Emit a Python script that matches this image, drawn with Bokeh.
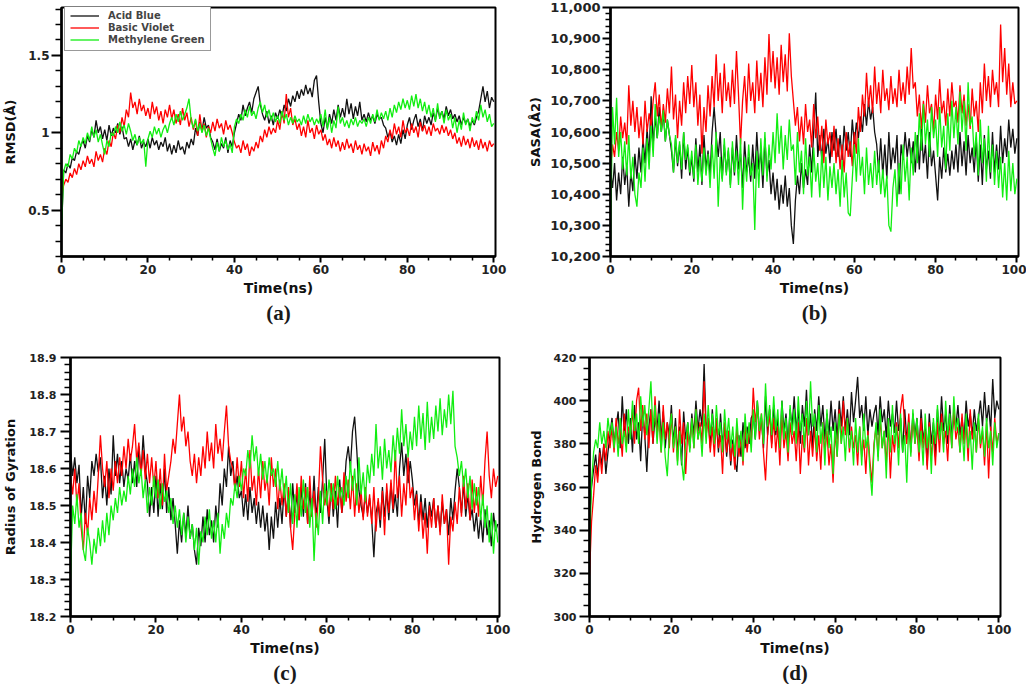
import numpy as np
from bokeh.plotting import figure
from bokeh.models import (Range1d, FixedTicker, NumeralTickFormatter, PrintfTickFormatter,
                          Legend, LegendItem, Title)
from bokeh.layouts import column, row
from bokeh.embed import file_html
from bokeh.resources import INLINE

# ---------------- data (t = 0 ... 100 ns, every 0.5 ns) -------------
time_ns = np.linspace(0, 100, 201)

series_names = ["Acid Blue", "Basic Violet", "Methylene Green"]

rmsd_acid_blue = [
    0.35, 0.76, 0.74, 0.80, 0.77, 0.84, 0.82, 0.88, 0.86, 0.92,
    0.95, 0.90, 0.98, 0.94, 1.02, 0.97, 1.08, 1.00, 1.04, 0.96,
    1.02, 0.95, 1.05, 0.98, 1.03, 1.00, 1.06, 0.99, 1.04, 0.96,
    0.97, 0.91, 0.96, 0.89, 0.95, 0.92, 0.98, 0.90, 0.94, 0.91,
    0.96, 0.90, 0.97, 0.92, 0.95, 0.89, 0.94, 0.91, 0.97, 0.88,
    0.93, 0.86, 0.92, 0.87, 0.95, 0.89, 0.91, 0.86, 0.94, 0.90,
    0.96, 0.92, 1.03, 0.98, 1.07, 1.01, 1.10, 1.03, 1.05, 0.97,
    0.94, 0.89, 0.96, 0.88, 0.93, 0.90, 0.97, 0.87, 0.95, 0.91,
    1.00, 1.06, 1.12, 1.08, 1.18, 1.11, 1.16, 1.20, 1.13, 1.22,
    1.26, 1.30, 1.18, 1.12, 1.08, 1.14, 1.06, 1.11, 1.05, 1.13,
    1.09, 1.15, 1.10, 1.18, 1.14, 1.22, 1.17, 1.24, 1.20, 1.27,
    1.22, 1.28, 1.24, 1.31, 1.25, 1.29, 1.23, 1.34, 1.37, 1.20,
    1.06, 1.00, 1.10, 1.03, 1.12, 1.06, 1.15, 1.08, 1.18, 1.10,
    1.16, 1.10, 1.22, 1.12, 1.19, 1.09, 1.17, 1.11, 1.20, 1.08,
    1.12, 1.07, 1.13, 1.08, 1.11, 1.06, 1.12, 1.09, 1.10, 1.05,
    1.03, 0.97, 1.01, 0.94, 0.98, 0.92, 0.99, 0.93, 1.02, 0.96,
    1.05, 1.10, 1.02, 1.08, 1.12, 1.04, 1.09, 1.01, 1.11, 1.06,
    1.10, 1.05, 1.13, 1.08, 1.16, 1.10, 1.14, 1.09, 1.17, 1.11,
    1.15, 1.09, 1.12, 1.07, 1.11, 1.05, 1.10, 1.06, 1.09, 1.04,
    1.08, 1.05, 1.10, 1.14, 1.22, 1.30, 1.20, 1.27, 1.16, 1.23,
    1.20]
rmsd_basic_violet = [
    0.60, 0.66, 0.70, 0.68, 0.74, 0.71, 0.77, 0.73, 0.80, 0.76,
    0.82, 0.78, 0.85, 0.80, 0.83, 0.78, 0.88, 0.82, 0.86, 0.81,
    0.90, 0.86, 0.95, 0.91, 1.00, 0.96, 1.05, 1.00, 1.10, 1.04,
    1.15, 1.10, 1.26, 1.16, 1.20, 1.12, 1.22, 1.14, 1.18, 1.11,
    1.16, 1.09, 1.20, 1.12, 1.17, 1.08, 1.14, 1.06, 1.15, 1.10,
    1.18, 1.09, 1.15, 1.06, 1.12, 1.05, 1.16, 1.08, 1.13, 1.04,
    1.10, 1.02, 1.08, 0.98, 1.12, 1.01, 1.06, 0.97, 1.04, 1.00,
    1.07, 1.01, 1.09, 1.03, 1.06, 0.99, 1.08, 1.02, 1.05, 1.00,
    0.94, 0.90, 0.92, 0.87, 0.95, 0.89, 0.93, 0.85, 0.91, 0.88,
    0.94, 0.90, 0.98, 0.94, 1.02, 0.97, 1.04, 0.99, 1.03, 1.00,
    1.08, 1.02, 1.14, 1.06, 1.25, 1.10, 1.16, 1.05, 1.09, 1.02,
    1.06, 0.98, 1.04, 0.97, 1.08, 1.00, 1.03, 0.96, 1.05, 0.99,
    1.02, 0.95, 0.99, 0.92, 0.96, 0.90, 0.97, 0.91, 0.95, 0.88,
    0.94, 0.89, 0.96, 0.90, 0.93, 0.87, 0.95, 0.89, 0.92, 0.86,
    0.93, 0.88, 0.91, 0.85, 0.94, 0.88, 0.92, 0.86, 0.95, 0.90,
    0.98, 0.94, 1.02, 0.96, 1.06, 0.99, 1.04, 0.97, 1.08, 1.00,
    1.03, 0.98, 1.06, 1.00, 1.04, 0.97, 1.07, 1.01, 1.05, 0.99,
    1.04, 0.98, 1.06, 1.01, 1.03, 0.99, 1.05, 1.00, 1.04, 0.98,
    1.02, 0.96, 1.00, 0.93, 0.97, 0.91, 0.98, 0.92, 0.96, 0.90,
    0.97, 0.91, 0.95, 0.89, 0.96, 0.90, 0.94, 0.88, 0.95, 0.91,
    0.93]
rmsd_methylene_green = [
    0.38, 0.75, 0.80, 0.78, 0.86, 0.83, 0.90, 0.87, 0.95, 0.91,
    0.97, 0.93, 1.00, 0.95, 1.04, 0.97, 1.02, 0.94, 0.99, 0.92,
    0.86, 0.95, 0.91, 1.00, 0.98, 1.04, 1.00, 1.07, 1.01, 1.05,
    0.99, 1.06, 1.01, 0.95, 0.99, 0.92, 0.97, 0.93, 0.96, 0.78,
    0.96, 1.01, 0.97, 1.04, 0.99, 1.03, 0.97, 1.02, 1.05, 1.00,
    1.06, 1.10, 1.05, 1.12, 1.07, 1.14, 1.08, 1.12, 1.16, 1.22,
    1.08, 1.03, 1.09, 1.01, 1.06, 1.00, 1.05, 0.98, 1.03, 0.96,
    0.90, 0.85, 0.94, 0.88, 0.97, 0.91, 0.95, 0.89, 0.93, 0.87,
    1.04, 1.09, 1.06, 1.12, 1.08, 1.15, 1.10, 1.17, 1.11, 1.14,
    1.09, 1.16, 1.20, 1.13, 1.18, 1.10, 1.15, 1.08, 1.13, 1.07,
    1.11, 1.06, 1.14, 1.08, 1.12, 1.05, 1.10, 1.06, 1.11, 1.07,
    1.09, 1.05, 1.11, 1.06, 1.12, 1.07, 1.10, 1.05, 1.09, 1.06,
    1.12, 1.04, 1.15, 1.02, 1.10, 1.00, 1.08, 1.03, 1.17, 1.06,
    1.10, 1.04, 1.08, 1.03, 1.09, 1.05, 1.10, 1.04, 1.08, 1.06,
    1.09, 1.04, 1.10, 1.06, 1.12, 1.07, 1.15, 1.08, 1.13, 1.09,
    1.14, 1.08, 1.16, 1.10, 1.18, 1.13, 1.20, 1.15, 1.22, 1.16,
    1.21, 1.15, 1.24, 1.17, 1.25, 1.16, 1.22, 1.14, 1.20, 1.12,
    1.18, 1.10, 1.16, 1.07, 1.19, 1.09, 1.14, 1.06, 1.15, 1.08,
    1.12, 1.03, 1.10, 1.00, 1.08, 1.02, 1.13, 1.05, 1.09, 1.01,
    1.10, 1.06, 1.14, 1.08, 1.18, 1.10, 1.15, 1.07, 1.12, 1.04,
    1.06]

sasa_acid_blue = [
    10480, 10420, 10500, 10380, 10470, 10400, 10520, 10430, 10490, 10360,
    10470, 10410, 10530, 10450, 10550, 10470, 10580, 10500, 10610, 10520,
    10715, 10560, 10650, 10580, 10680, 10600, 10660, 10570, 10640, 10590,
    10540, 10470, 10580, 10490, 10560, 10450, 10600, 10480, 10550, 10460,
    10520, 10440, 10580, 10470, 10560, 10430, 10590, 10480, 10540, 10460,
    10600, 10680, 10590, 10520, 10600, 10450, 10560, 10470, 10540, 10430,
    10550, 10460, 10590, 10480, 10530, 10420, 10570, 10470, 10520, 10440,
    10560, 10450, 10600, 10480, 10540, 10420, 10580, 10460, 10510, 10400,
    10470, 10380, 10450, 10350, 10430, 10370, 10460, 10360, 10420, 10300,
    10240, 10380, 10460, 10400, 10500, 10420, 10480, 10430, 10560, 10470,
    10600, 10727, 10520, 10590, 10510, 10610, 10530, 10580, 10500, 10600,
    10540, 10610, 10520, 10590, 10510, 10620, 10540, 10600, 10520, 10640,
    10560, 10630, 10580, 10650, 10600, 10690, 10620, 10700, 10640, 10680,
    10600, 10560, 10470, 10580, 10460, 10560, 10450, 10600, 10480, 10550,
    10500, 10590, 10400, 10560, 10510, 10600, 10520, 10580, 10500, 10570,
    10470, 10590, 10480, 10620, 10500, 10560, 10450, 10600, 10490, 10540,
    10460, 10380, 10520, 10450, 10550, 10470, 10530, 10460, 10540, 10480,
    10560, 10470, 10600, 10490, 10570, 10460, 10590, 10500, 10550, 10470,
    10580, 10440, 10560, 10430, 10590, 10480, 10540, 10450, 10600, 10470,
    10560, 10480, 10620, 10500, 10580, 10520, 10640, 10550, 10610, 10530,
    10580]
sasa_basic_violet = [
    10480, 10560, 10520, 10600, 10540, 10650, 10580, 10630, 10560, 10750,
    10620, 10700, 10600, 10680, 10580, 10650, 10560, 10700, 10600, 10660,
    10620, 10700, 10760, 10650, 10720, 10610, 10690, 10630, 10740, 10660,
    10810, 10640, 10720, 10580, 10700, 10620, 10760, 10660, 10780, 10690,
    10815, 10680, 10760, 10620, 10720, 10530, 10680, 10600, 10750, 10650,
    10780, 10680, 10850, 10700, 10790, 10660, 10820, 10700, 10760, 10680,
    10800, 10690, 10860, 10720, 10560, 10700, 10780, 10660, 10820, 10700,
    10760, 10660, 10830, 10700, 10790, 10680, 10840, 10720, 10915, 10760,
    10860, 10740, 10840, 10720, 10880, 10760, 10850, 10730, 10917, 10780,
    10700, 10620, 10680, 10570, 10650, 10560, 10690, 10600, 10640, 10550,
    10690, 10580, 10650, 10540, 10620, 10500, 10640, 10560, 10600, 10520,
    10620, 10500, 10580, 10480, 10560, 10470, 10600, 10520, 10570, 10490,
    10600, 10530, 10680, 10600, 10720, 10650, 10790, 10680, 10750, 10660,
    10810, 10690, 10760, 10660, 10800, 10700, 10740, 10670, 10780, 10690,
    10740, 10680, 10800, 10700, 10760, 10690, 10810, 10720, 10870, 10740,
    10760, 10650, 10720, 10610, 10700, 10630, 10750, 10660, 10690, 10600,
    10720, 10640, 10770, 10660, 10700, 10620, 10740, 10650, 10760, 10680,
    10700, 10630, 10750, 10660, 10720, 10620, 10690, 10610, 10740, 10650,
    10700, 10600, 10760, 10660, 10820, 10700, 10780, 10680, 10800, 10720,
    10760, 10680, 10945, 10760, 10870, 10720, 10820, 10680, 10760, 10690,
    10700]
sasa_methylene_green = [
    10250, 10680, 10560, 10710, 10520, 10600, 10480, 10570, 10460, 10590,
    10450, 10520, 10400, 10360, 10470, 10420, 10550, 10440, 10580, 10480,
    10620, 10520, 10690, 10580, 10650, 10600, 10670, 10570, 10640, 10590,
    10560, 10470, 10590, 10500, 10570, 10480, 10600, 10510, 10560, 10470,
    10540, 10450, 10560, 10430, 10520, 10440, 10550, 10460, 10530, 10420,
    10560, 10450, 10600, 10360, 10520, 10440, 10580, 10460, 10550, 10420,
    10570, 10470, 10540, 10430, 10580, 10350, 10520, 10440, 10560, 10460,
    10500, 10285, 10540, 10420, 10580, 10460, 10600, 10440, 10560, 10480,
    10600, 10500, 10660, 10530, 10620, 10480, 10590, 10510, 10640, 10540,
    10560, 10430, 10600, 10470, 10540, 10400, 10580, 10460, 10520, 10390,
    10550, 10440, 10500, 10390, 10540, 10420, 10520, 10380, 10490, 10420,
    10500, 10400, 10480, 10360, 10510, 10390, 10470, 10340, 10330, 10450,
    10560, 10440, 10580, 10460, 10520, 10400, 10550, 10430, 10500, 10420,
    10540, 10430, 10510, 10400, 10480, 10390, 10460, 10300, 10280, 10420,
    10480, 10360, 10500, 10400, 10560, 10440, 10520, 10380, 10550, 10460,
    10600, 10500, 10660, 10540, 10690, 10560, 10640, 10520, 10680, 10580,
    10640, 10520, 10680, 10550, 10620, 10480, 10660, 10540, 10700, 10580,
    10680, 10560, 10730, 10600, 10700, 10540, 10760, 10620, 10650, 10520,
    10600, 10460, 10640, 10500, 10580, 10440, 10620, 10470, 10560, 10430,
    10540, 10420, 10520, 10390, 10500, 10380, 10540, 10410, 10500, 10400,
    10450]

rg_acid_blue = [
    18.65, 18.58, 18.63, 18.56, 18.61, 18.47, 18.55, 18.45, 18.58, 18.52,
    18.62, 18.58, 18.64, 18.59, 18.63, 18.52, 18.58, 18.50, 18.60, 18.53,
    18.69, 18.58, 18.64, 18.56, 18.62, 18.55, 18.60, 18.57, 18.64, 18.56,
    18.62, 18.55, 18.66, 18.58, 18.69, 18.60, 18.56, 18.47, 18.55, 18.48,
    18.58, 18.47, 18.56, 18.49, 18.60, 18.48, 18.55, 18.46, 18.52, 18.45,
    18.37, 18.46, 18.40, 18.48, 18.42, 18.50, 18.41, 18.45, 18.38, 18.34,
    18.44, 18.39, 18.47, 18.40, 18.49, 18.42, 18.46, 18.40, 18.50, 18.44,
    18.56, 18.50, 18.60, 18.55, 18.66, 18.58, 18.62, 18.54, 18.58, 18.52,
    18.54, 18.47, 18.53, 18.46, 18.55, 18.48, 18.52, 18.45, 18.51, 18.44,
    18.50, 18.43, 18.48, 18.38, 18.47, 18.41, 18.51, 18.44, 18.52, 18.45,
    18.55, 18.47, 18.54, 18.44, 18.56, 18.48, 18.53, 18.46, 18.55, 18.47,
    18.56, 18.45, 18.54, 18.47, 18.58, 18.46, 18.55, 18.48, 18.57, 18.68,
    18.52, 18.45, 18.56, 18.47, 18.54, 18.44, 18.57, 18.48, 18.53, 18.62,
    18.66, 18.60, 18.70, 18.74, 18.65, 18.54, 18.50, 18.47, 18.53, 18.48,
    18.52, 18.46, 18.36, 18.48, 18.51, 18.44, 18.55, 18.47, 18.54, 18.46,
    18.56, 18.48, 18.53, 18.47, 18.60, 18.67, 18.58, 18.64, 18.56, 18.62,
    18.57, 18.50, 18.54, 18.45, 18.53, 18.46, 18.52, 18.44, 18.51, 18.47,
    18.52, 18.44, 18.50, 18.43, 18.51, 18.45, 18.49, 18.42, 18.52, 18.46,
    18.54, 18.60, 18.55, 18.48, 18.56, 18.47, 18.53, 18.46, 18.49, 18.43,
    18.48, 18.41, 18.47, 18.40, 18.49, 18.42, 18.46, 18.39, 18.48, 18.43,
    18.45]
rg_basic_violet = [
    18.58, 18.53, 18.60, 18.50, 18.56, 18.44, 18.38, 18.48, 18.42, 18.52,
    18.46, 18.54, 18.48, 18.58, 18.69, 18.60, 18.55, 18.62, 18.52, 18.60,
    18.54, 18.62, 18.56, 18.63, 18.58, 18.66, 18.60, 18.68, 18.62, 18.66,
    18.72, 18.62, 18.67, 18.58, 18.65, 18.57, 18.64, 18.56, 18.63, 18.55,
    18.62, 18.52, 18.60, 18.50, 18.64, 18.54, 18.58, 18.62, 18.68, 18.64,
    18.72, 18.80, 18.70, 18.74, 18.66, 18.70, 18.62, 18.58, 18.64, 18.56,
    18.63, 18.58, 18.66, 18.60, 18.70, 18.62, 18.67, 18.60, 18.72, 18.64,
    18.68, 18.62, 18.70, 18.77, 18.66, 18.62, 18.60, 18.54, 18.63, 18.55,
    18.62, 18.52, 18.60, 18.51, 18.65, 18.54, 18.58, 18.50, 18.60, 18.52,
    18.62, 18.54, 18.58, 18.50, 18.63, 18.55, 18.60, 18.49, 18.57, 18.50,
    18.56, 18.47, 18.55, 18.44, 18.38, 18.48, 18.56, 18.46, 18.58, 18.49,
    18.55, 18.45, 18.58, 18.47, 18.54, 18.44, 18.52, 18.66, 18.57, 18.50,
    18.54, 18.47, 18.56, 18.49, 18.58, 18.50, 18.55, 18.48, 18.59, 18.51,
    18.57, 18.49, 18.58, 18.47, 18.56, 18.48, 18.54, 18.46, 18.55, 18.47,
    18.53, 18.45, 18.55, 18.43, 18.52, 18.46, 18.54, 18.42, 18.56, 18.48,
    18.57, 18.49, 18.65, 18.52, 18.58, 18.47, 18.56, 18.50, 18.63, 18.52,
    18.55, 18.46, 18.53, 18.43, 18.51, 18.41, 18.48, 18.37, 18.50, 18.44,
    18.52, 18.44, 18.50, 18.42, 18.53, 18.45, 18.49, 18.34, 18.47, 18.43,
    18.51, 18.45, 18.55, 18.47, 18.58, 18.49, 18.56, 18.46, 18.57, 18.48,
    18.55, 18.47, 18.58, 18.50, 18.62, 18.70, 18.58, 18.52, 18.60, 18.55,
    18.58]
rg_methylene_green = [
    18.30, 18.50, 18.45, 18.53, 18.44, 18.48, 18.38, 18.35, 18.44, 18.40,
    18.34, 18.41, 18.37, 18.44, 18.39, 18.46, 18.40, 18.48, 18.42, 18.50,
    18.46, 18.52, 18.48, 18.55, 18.50, 18.54, 18.51, 18.58, 18.53, 18.60,
    18.55, 18.63, 18.56, 18.60, 18.52, 18.57, 18.48, 18.55, 18.50, 18.58,
    18.52, 18.57, 18.49, 18.56, 18.51, 18.54, 18.48, 18.52, 18.45, 18.50,
    18.44, 18.49, 18.42, 18.48, 18.40, 18.47, 18.41, 18.45, 18.38, 18.44,
    18.34, 18.43, 18.40, 18.47, 18.42, 18.49, 18.41, 18.46, 18.40, 18.48,
    18.37, 18.45, 18.41, 18.48, 18.44, 18.52, 18.50, 18.56, 18.52, 18.58,
    18.54, 18.60, 18.58, 18.65, 18.60, 18.69, 18.62, 18.66, 18.58, 18.64,
    18.57, 18.62, 18.56, 18.63, 18.58, 18.60, 18.55, 18.62, 18.54, 18.60,
    18.52, 18.58, 18.48, 18.56, 18.45, 18.53, 18.44, 18.55, 18.47, 18.57,
    18.48, 18.55, 18.44, 18.52, 18.35, 18.48, 18.42, 18.54, 18.45, 18.56,
    18.50, 18.57, 18.51, 18.56, 18.49, 18.58, 18.52, 18.55, 18.50, 18.58,
    18.52, 18.62, 18.54, 18.60, 18.50, 18.63, 18.53, 18.59, 18.51, 18.61,
    18.56, 18.64, 18.58, 18.72, 18.60, 18.66, 18.57, 18.68, 18.60, 18.65,
    18.59, 18.69, 18.62, 18.71, 18.64, 18.76, 18.66, 18.72, 18.63, 18.70,
    18.65, 18.74, 18.66, 18.77, 18.68, 18.75, 18.65, 18.78, 18.67, 18.74,
    18.68, 18.77, 18.70, 18.79, 18.69, 18.76, 18.71, 18.80, 18.72, 18.81,
    18.66, 18.63, 18.58, 18.62, 18.55, 18.60, 18.52, 18.58, 18.49, 18.56,
    18.50, 18.55, 18.46, 18.53, 18.44, 18.50, 18.40, 18.48, 18.37, 18.46,
    18.40]

hb_acid_blue = [
    345, 360, 368, 375, 365, 378, 370, 380, 366, 376,
    384, 392, 380, 388, 395, 378, 402, 384, 396, 380,
    392, 376, 398, 382, 390, 372, 395, 384, 367, 388,
    396, 380, 392, 386, 400, 382, 395, 378, 390, 384,
    398, 380, 392, 376, 388, 370, 395, 382, 390, 378,
    394, 384, 400, 386, 396, 388, 417, 386, 392, 378,
    396, 382, 390, 376, 394, 380, 388, 374, 386, 370,
    382, 372, 367, 384, 374, 390, 378, 388, 380, 392,
    394, 382, 400, 386, 392, 378, 402, 384, 396, 380,
    398, 384, 392, 378, 400, 386, 394, 380, 396, 388,
    402, 386, 396, 380, 398, 388, 405, 384, 394, 378,
    396, 386, 402, 388, 398, 382, 394, 384, 400, 386,
    396, 382, 400, 388, 402, 386, 396, 384, 404, 390,
    400, 411, 392, 398, 386, 402, 384, 396, 388, 394,
    398, 384, 402, 390, 396, 383, 400, 388, 394, 385,
    400, 386, 392, 376, 396, 382, 390, 378, 394, 384,
    392, 376, 396, 382, 388, 370, 394, 380, 390, 374,
    396, 382, 402, 386, 394, 380, 398, 384, 392, 388,
    398, 384, 392, 382, 400, 388, 394, 384, 396, 386,
    392, 400, 388, 404, 390, 398, 386, 410, 392, 400,
    396]
hb_basic_violet = [
    319, 344, 356, 370, 362, 376, 366, 380, 372, 386,
    378, 388, 376, 392, 380, 386, 374, 394, 380, 388,
    384, 396, 380, 400, 406, 386, 398, 382, 394, 378,
    396, 380, 402, 384, 392, 376, 398, 382, 390, 378,
    394, 376, 388, 372, 396, 380, 390, 366, 386, 378,
    392, 378, 396, 382, 390, 380, 409, 384, 392, 376,
    388, 374, 392, 378, 384, 366, 390, 376, 386, 372,
    380, 368, 388, 374, 384, 370, 390, 376, 386, 380,
    406, 390, 398, 382, 394, 376, 363, 384, 396, 378,
    392, 376, 388, 370, 394, 378, 386, 372, 390, 380,
    386, 372, 390, 366, 384, 376, 392, 370, 386, 374,
    388, 372, 384, 368, 390, 376, 386, 370, 380, 362,
    386, 374, 396, 380, 400, 384, 392, 376, 388, 378,
    384, 370, 388, 374, 382, 366, 386, 372, 362, 380,
    388, 374, 392, 378, 386, 370, 390, 364, 384, 376,
    390, 378, 396, 403, 388, 380, 394, 376, 392, 380,
    388, 372, 392, 378, 386, 368, 390, 374, 384, 370,
    390, 376, 394, 380, 386, 372, 392, 378, 396, 382,
    388, 376, 394, 380, 390, 372, 396, 382, 388, 376,
    392, 378, 386, 370, 390, 364, 388, 376, 392, 380,
    385]
hb_methylene_green = [
    330, 362, 376, 382, 378, 390, 380, 386, 378, 392,
    384, 390, 378, 388, 374, 392, 380, 386, 376, 396,
    382, 400, 386, 394, 380, 402, 388, 398, 384, 396,
    409, 386, 398, 380, 394, 376, 390, 374, 365, 384,
    394, 378, 388, 370, 386, 372, 363, 380, 390, 376,
    392, 378, 396, 382, 388, 374, 394, 380, 398, 384,
    394, 380, 398, 384, 390, 376, 396, 382, 392, 378,
    388, 374, 392, 378, 386, 372, 394, 380, 390, 376,
    396, 382, 400, 386, 394, 380, 408, 388, 398, 384,
    402, 386, 396, 378, 400, 382, 392, 376, 398, 384,
    396, 380, 402, 386, 394, 378, 400, 384, 409, 388,
    394, 376, 398, 380, 390, 370, 396, 378, 388, 366,
    390, 374, 394, 380, 388, 372, 392, 378, 386, 370,
    392, 376, 388, 370, 394, 378, 384, 368, 356, 378,
    390, 372, 396, 378, 386, 364, 392, 376, 398, 380,
    388, 370, 394, 376, 384, 362, 390, 374, 396, 380,
    392, 376, 386, 370, 394, 378, 388, 366, 392, 380,
    398, 382, 390, 376, 400, 384, 394, 378, 402, 386,
    392, 376, 388, 372, 394, 378, 386, 368, 390, 376,
    394, 380, 388, 374, 392, 378, 386, 370, 390, 378,
    385]

x_major_ticks = [0, 20, 40, 60, 80, 100]
x_minor_ticks = [5, 10, 15, 25, 30, 35, 45, 50, 55, 65, 70, 75, 85, 90, 95]

COLORS = ["#111111", "#ff0000", "#11ee11"]
FONT = "DejaVu Sans"


def make_panel(w, h, lb, rb, tb, bb, yr, ylabel, yticks, yminor, fmt, panel_label,
               tick_size, ymaj=10, ymin=6, ylab_standoff=6, ytick_standoff=2):
    p = figure(width=w, height=h, output_backend="svg", toolbar_location=None, title=None,
               x_range=Range1d(0, 100.4), y_range=Range1d(*yr),
               min_border_left=lb, min_border_right=rb, min_border_top=tb, min_border_bottom=bb)
    p.xgrid.visible = False
    p.ygrid.visible = False
    p.outline_line_color = "black"
    p.outline_line_width = 2
    p.outline_line_alpha = 1
    p.background_fill_color = "white"
    p.border_fill_color = "white"
    p.xaxis.ticker = FixedTicker(ticks=x_major_ticks, minor_ticks=x_minor_ticks)
    p.yaxis.ticker = FixedTicker(ticks=yticks, minor_ticks=yminor)
    for ax in (p.xaxis[0], p.yaxis[0]):
        ax.axis_line_width = 2.5
        ax.axis_line_color = "black"
        ax.major_tick_line_width = 2
        ax.minor_tick_line_width = 1.5
        ax.major_tick_in = 0
        ax.minor_tick_in = 0
        ax.major_label_text_font = FONT
        ax.major_label_text_font_style = "bold"
        ax.major_label_text_color = "#222222"
        ax.axis_label_text_font = FONT
        ax.axis_label_text_font_style = "bold"
        ax.axis_label_text_color = "#111111"
    xa, ya = p.xaxis[0], p.yaxis[0]
    xa.major_tick_out = 6
    xa.minor_tick_out = 4
    xa.major_label_standoff = 2
    xa.axis_label_standoff = 3
    xa.axis_label = "Time(ns)"
    xa.axis_label_text_font_size = "14px"
    xa.major_label_text_font_size = "12px"
    ya.major_tick_out = ymaj
    ya.minor_tick_out = ymin
    ya.major_label_standoff = ytick_standoff
    ya.axis_label_standoff = ylab_standoff
    ya.axis_label = ylabel
    ya.axis_label_text_font_size = "13px"
    ya.major_label_text_font_size = tick_size
    if fmt is not None:
        ya.formatter = fmt
    p.add_layout(Title(text=panel_label, align="center", text_font="Liberation Serif",
                       text_font_size="21px", text_font_style="bold", text_color="#1a1a1a",
                       standoff=0), "below")
    return p


def add_lines(p, ys):
    rends = []
    for y, c in zip(ys, COLORS):
        rends.append(p.line(time_ns, y, line_color=c, line_width=1.3))
    return rends


# (a) RMSD
pa = make_panel(525, 340, 61, 30, 2, 84, (0.2, 1.81), "RMSD(Å)",
                [0.5, 1.0, 1.5], [0.2, 0.3, 0.4, 0.6, 0.7, 0.8, 0.9, 1.1, 1.2, 1.3, 1.4, 1.6, 1.7, 1.8],
                None, "(a)", "12px", ylab_standoff=7)
pa.yaxis.major_label_overrides = {0.5: "0.5", 1: "1", 1.5: "1.5"}
ra = add_lines(pa, [rmsd_acid_blue, rmsd_basic_violet, rmsd_methylene_green])
legend = Legend(items=[LegendItem(label=n, renderers=[r]) for n, r in zip(series_names, ra)],
                location=(3, 205), margin=0, padding=5, spacing=1,
                glyph_width=29, glyph_height=11, label_height=11, label_standoff=9,
                label_text_font=FONT, label_text_font_style="bold", label_text_font_size="10px",
                border_line_color="#333333", border_line_width=1.5, background_fill_alpha=1)
pa.add_layout(legend)

# (b) SASA
sasa_major = list(range(10200, 11001, 100))
sasa_minor = [v for v in range(10200, 11001, 20) if v % 100 != 0]
pb = make_panel(501, 340, 80, 8, 7, 80, (10200, 11000), "SASA(Å2)",
                sasa_major, sasa_minor, NumeralTickFormatter(format="0,0"), "(b)", "13px",
                ymaj=8, ymin=5, ylab_standoff=4)
add_lines(pb, [sasa_acid_blue, sasa_basic_violet, sasa_methylene_green])

# (c) Radius of gyration
rg_major = [18.2, 18.3, 18.4, 18.5, 18.6, 18.7, 18.8, 18.9]
rg_minor = [round(18.2 + 0.02 * i, 2) for i in range(36) if i % 5 != 0]
pc = make_panel(525, 344, 70, 26, 14, 67, (18.2, 18.9), "Radius of Gyration",
                rg_major, rg_minor, PrintfTickFormatter(format="%.1f"), "(c)", "11px",
                ylab_standoff=8, ytick_standoff=4)
add_lines(pc, [rg_acid_blue, rg_basic_violet, rg_methylene_green])

# (d) Hydrogen bonds
hb_major = [300, 320, 340, 360, 380, 400, 420]
hb_minor = [v for v in range(300, 421, 5) if v % 20 != 0]
pd_ = make_panel(501, 344, 63, 26, 17, 67, (300, 420), "Hydrogen Bond",
                 hb_major, hb_minor, None, "(d)", "11px", ylab_standoff=7, ytick_standoff=3)
add_lines(pd_, [hb_acid_blue, hb_basic_violet, hb_methylene_green])

layout = column(row(pa, pb), row(pc, pd_))

open("out.html", "w").write(file_html(layout, INLINE))
